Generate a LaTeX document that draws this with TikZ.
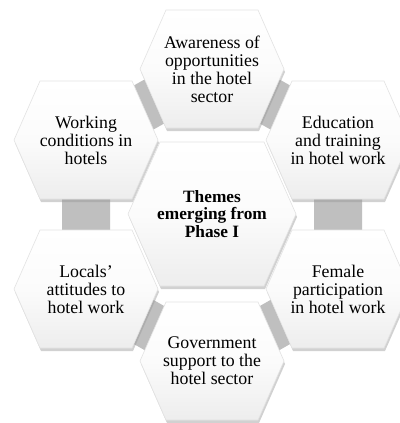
\documentclass[tikz,border=0pt]{standalone}
\usepackage{fontspec}
\setmainfont{Liberation Serif}
\usetikzlibrary{shadows,calc}
\begin{document}
\begin{tikzpicture}[x=1pt,y=-1pt,
  ring/.style={draw=gray!50, line width=48pt, line join=miter},
  hexfill/.style={top color=white, bottom color=gray!14, middle color=white!97!gray, draw=gray!22, line width=0.6pt,
    drop shadow={shadow xshift=1pt, shadow yshift=-3pt, opacity=0.45, fill=gray!80}},
  lbl/.style={align=center, font=\fontsize{17.8}{18}\selectfont, inner sep=0pt},
  ctr/.style={lbl, font=\fontsize{17.3}{17.5}\selectfont\bfseries}]
\useasboundingbox (0,0) rectangle (399,423);
\fill[white] (0,0) rectangle (399,423);
% centres
\coordinate (pc) at (212,214);
\coordinate (pt) at (212,69);
\coordinate (pul) at (86,140);
\coordinate (pur) at (338,140);
\coordinate (pll) at (86,289);
\coordinate (plr) at (338,289);
\coordinate (pb) at (212,361);
% ring behind
\draw[ring] (pt) -- (pur) -- (plr) -- (pb) -- (pll) -- (pul) -- cycle;
% outer hexagons
\foreach \p in {pt,pul,pur,pll,plr,pb}{
  \path[hexfill] ($(\p)+(-46,-59)$) -- ($(\p)+(46,-59)$) -- ($(\p)+(72,0)$) -- ($(\p)+(46,59)$) -- ($(\p)+(-46,59)$) -- ($(\p)+(-72,0)$) -- cycle;
}
% centre hexagon
\path[hexfill] ($(pc)+(-52,-72)$) -- ($(pc)+(52,-72)$) -- ($(pc)+(84,0)$) -- ($(pc)+(52,72)$) -- ($(pc)+(-52,72)$) -- ($(pc)+(-84,0)$) -- cycle;
% labels
\node[ctr] (c) at (pc) {Themes\\emerging from\\Phase I};
\node[lbl] (t) at (pt) {Awareness of\\opportunities\\in the hotel\\sector};
\node[lbl] (ul) at (pul) {Working\\conditions in\\hotels};
\node[lbl] (ur) at (pur) {Education\\and training\\in hotel work};
\node[lbl] (ll) at (pll) {Locals’\\attitudes to\\hotel work};
\node[lbl] (lr) at (plr) {Female\\participation\\in hotel work};
\node[lbl] (b) at (pb) {Government\\support to the\\hotel sector};
\end{tikzpicture}
\end{document}
